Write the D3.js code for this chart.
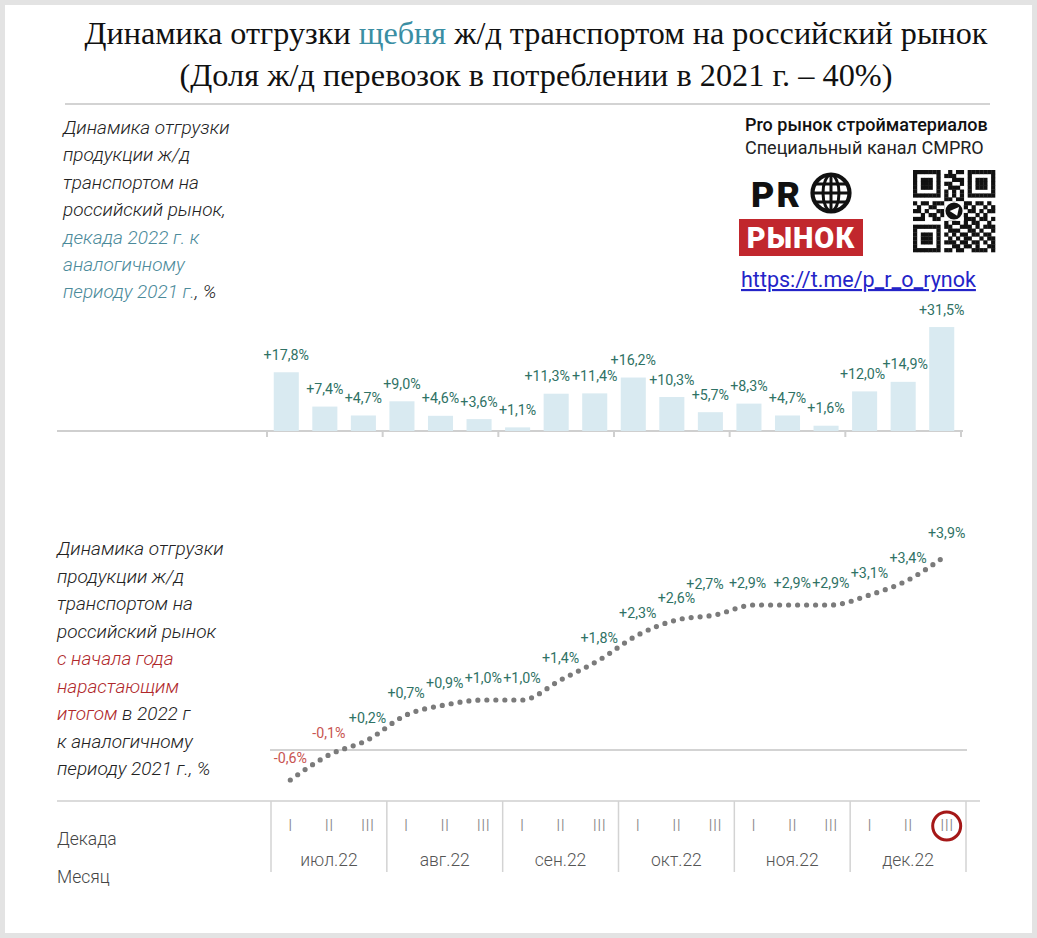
<!DOCTYPE html>
<html><head><meta charset="utf-8">
<script src="https://cdn.jsdelivr.net/npm/d3@7"></script>
<style>body{margin:0;background:#fff} svg{display:block}</style>
</head><body><script>
// ---- data ----
const months = ["июл.22","авг.22","сен.22","окт.22","ноя.22","дек.22"];
const decades = ["I","II","III"];
const barValues = [17.8, 7.4, 4.7, 9.0, 4.6, 3.6, 1.1, 11.3, 11.4, 16.2, 10.3, 5.7, 8.3, 4.7, 1.6, 12.0, 14.9, 31.5];
const cumValues = [-0.6, -0.1, 0.2, 0.7, 0.9, 1.0, 1.0, 1.4, 1.8, 2.3, 2.6, 2.7, 2.9, 2.9, 2.9, 3.1, 3.4, 3.9];
const categories = months.flatMap(m => decades.map(d => m + " " + d));
const qrRows = [
"111111100101101111111",
"100000101110001000001",
"101110100011101011101",
"101110101100101011101",
"101110100111001011101",
"100000101010101000001",
"111111101010101111111",
"000000001101100000000",
"101101111010011011010",
"010011001101110100101",
"110100110011001101011",
"001011011101110010100",
"111001100110011101101",
"000000001011010110010",
"111111101100111010111",
"100000100111001101001",
"101110101010110110110",
"101110100101011001011",
"101110101110110110101",
"100000100011011010011",
"111111101101100111101"];

const W = 1037, H = 938;
const GREEN = "#2f7265", RED = "#c85450", TEAL = "#4b8a9a", DARKRED = "#b0282b";
const fmt = v => (v > 0 ? "+" : "") + v.toFixed(1).replace(".", ",") + "%";

const svg = d3.select("body").append("svg").attr("width", W).attr("height", H)
  .style("font-family", "Roboto, 'Noto Sans', sans-serif");

svg.append("rect").attr("x", 0).attr("y", 0).attr("width", W).attr("height", H)
  .attr("fill", "#fff").attr("stroke", "#e3e3e3").attr("stroke-width", 10);

// ---- title ----
const t1 = svg.append("text").attr("x", 536).attr("y", 44).attr("text-anchor", "middle")
  .attr("font-family", "'Liberation Serif', 'Times New Roman', serif").attr("font-size", 32)
  .attr("fill", "#111").attr("textLength", 903).attr("lengthAdjust", "spacingAndGlyphs");
t1.append("tspan").text("Динамика отгрузки ");
t1.append("tspan").attr("fill", "#3a8ea3").text("щебня");
t1.append("tspan").text(" ж/д транспортом на российский рынок");
svg.append("text").attr("x", 536).attr("y", 86).attr("text-anchor", "middle")
  .attr("font-family", "'Liberation Serif', 'Times New Roman', serif").attr("font-size", 32)
  .attr("fill", "#111").attr("textLength", 713).attr("lengthAdjust", "spacingAndGlyphs")
  .text("(Доля ж/д перевозок в потреблении в 2021 г. – 40%)");
svg.append("line").attr("x1", 65).attr("x2", 990).attr("y1", 104).attr("y2", 104)
  .attr("stroke", "#c4c4c4").attr("stroke-width", 1.5);

// ---- left text blocks ----
function block(x, y0, step, lines) {
  lines.forEach((parts, i) => {
    const t = svg.append("text").attr("x", x).attr("y", y0 + i * step)
      .attr("font-size", 19).attr("font-style", "italic").attr("font-weight", 300).attr("fill", "#222");
    parts.forEach(p => t.append("tspan").attr("fill", p[1] || "#222").text(p[0]));
  });
}
block(63, 134, 27.4, [
  [["Динамика отгрузки"]],
  [["продукции ж/д"]],
  [["транспортом на"]],
  [["российский  рынок,"]],
  [["декада 2022 г. к", TEAL]],
  [["аналогичному", TEAL]],
  [["периоду 2021 г.", TEAL], [", %"]]
]);
block(57, 555, 27.5, [
  [["Динамика отгрузки"]],
  [["продукции ж/д"]],
  [["транспортом на"]],
  [["российский  рынок"]],
  [["с начала года", DARKRED]],
  [["нарастающим", DARKRED]],
  [["итогом", DARKRED], [" в 2022 г"]],
  [["к аналогичному"]],
  [["периоду 2021 г., %"]]
]);

// ---- logo block ----
svg.append("text").attr("x", 745).attr("y", 131).attr("font-size", 18).attr("font-weight", 500)
  .attr("fill", "#111").text("Pro рынок стройматериалов");
svg.append("text").attr("x", 745).attr("y", 154).attr("font-size", 18).attr("font-weight", 400)
  .attr("fill", "#222").text("Специальный канал CMPRO");
svg.append("text").attr("x", 751).attr("y", 206.5).attr("font-size", 35).attr("font-weight", 900)
  .attr("fill", "#111").attr("letter-spacing", 2).attr("textLength", 51).attr("lengthAdjust", "spacingAndGlyphs").text("PR");
const g = svg.append("g").attr("transform", "translate(831,193)");
g.append("circle").attr("r", 18.5).attr("fill", "none").attr("stroke", "#111").attr("stroke-width", 4.2);
g.append("ellipse").attr("rx", 8).attr("ry", 18).attr("fill", "none").attr("stroke", "#111").attr("stroke-width", 3);
g.append("line").attr("x1", 0).attr("x2", 0).attr("y1", -18).attr("y2", 18).attr("stroke", "#111").attr("stroke-width", 3);
[-9, 0, 9].forEach(yy => g.append("line").attr("x1", -Math.sqrt(324 - yy * yy)).attr("x2", Math.sqrt(324 - yy * yy))
  .attr("y1", yy).attr("y2", yy).attr("stroke", "#111").attr("stroke-width", 3));
svg.append("rect").attr("x", 739).attr("y", 219).attr("width", 124).attr("height", 37).attr("fill", "#c1272d");
svg.append("text").attr("x", 801).attr("y", 248).attr("text-anchor", "middle").attr("font-size", 29)
  .attr("font-weight", 900).attr("fill", "#fff").attr("letter-spacing", 1).text("РЫНОК");
// QR
const qs = 82 / 21;
const qg = svg.append("g").attr("transform", "translate(913,170)");
qrRows.forEach((row, r) => row.split("").forEach((c, k) => {
  if (c === "1") qg.append("rect").attr("x", k * qs).attr("y", r * qs).attr("width", qs + 0.3).attr("height", qs + 0.3).attr("fill", "#111");
}));
qg.append("rect").attr("x", 8 * qs).attr("y", 8 * qs).attr("width", 5 * qs).attr("height", 5 * qs).attr("fill", "#fff");
qg.append("circle").attr("cx", 10.5 * qs).attr("cy", 10.5 * qs).attr("r", 2.2 * qs).attr("fill", "#111");
qg.append("path").attr("d", `M${9.4 * qs},${10.5 * qs} L${11.8 * qs},${9.5 * qs} L${11.3 * qs},${11.7 * qs} Z`).attr("fill", "#fff");
// link
svg.append("text").attr("x", 741).attr("y", 287).attr("font-size", 21.5).attr("fill", "#2424c8")
  .attr("text-decoration", "underline").text("https://t.me/p_r_o_rynok");

// value label helper (narrowed Roboto like the reference)
function valueLabel(parent, cx, cy, txt, color) {
  const box = parent.append("rect").attr("fill", "#fff");
  const t = parent.append("text").attr("x", cx).attr("y", cy + 5.5).attr("text-anchor", "middle")
    .attr("font-size", 15.5).attr("fill", color).text(txt);
  const w = t.node().getComputedTextLength() * 0.92;
  t.attr("textLength", w).attr("lengthAdjust", "spacingAndGlyphs");
  box.attr("x", cx - w / 2 - 1).attr("y", cy - 8).attr("width", w + 2).attr("height", 16);
}

// ---- bar chart ----
const xb = d3.scaleBand().domain(categories).range([267, 961]).paddingInner(0.35).paddingOuter(0.175);
const yb = d3.scaleLinear().domain([0, 35]).range([431, 315.5]);
svg.append("line").attr("x1", 57).attr("x2", 963).attr("y1", yb(0)).attr("y2", yb(0))
  .attr("stroke", "#cfcfcf").attr("stroke-width", 2);
const monthEdge = d3.scaleLinear().domain([0, months.length]).range([267, 961]);
d3.range(months.length + 1).forEach(i => svg.append("line")
  .attr("x1", monthEdge(i)).attr("x2", monthEdge(i)).attr("y1", yb(0)).attr("y2", yb(0) + 6)
  .attr("stroke", "#cfcfcf").attr("stroke-width", 2));
svg.append("g").selectAll("rect").data(barValues).join("rect")
  .attr("x", (d, i) => xb(categories[i])).attr("width", xb.bandwidth())
  .attr("y", d => yb(d)).attr("height", d => yb(0) - yb(d)).attr("fill", "#d9eaf1");
const barNudge = {7: -9, 15: -2, 16: 2};
const bl = svg.append("g");
barValues.forEach((v, i) => {
  const cx = xb(categories[i]) + xb.bandwidth() / 2 + (barNudge[i] || 0);
  valueLabel(bl, cx, yb(v) - 18, fmt(v), GREEN);
});

// ---- line chart ----
const xa = d3.scaleBand().domain(categories).range([271, 966]);
const xl = i => xa(categories[i]) + xa.bandwidth() / 2;
const yl = d3.scaleLinear().domain([-1, 4]).range([800, 550]);
const lineNudge = {11: [-10, -9], 12: [-6, 0]};
const ll = svg.append("g");
cumValues.forEach((v, i) => {
  const n = lineNudge[i] || [0, 0];
  valueLabel(ll, xl(i) + n[0], yl(v) - 23 + n[1], fmt(v), v < 0 ? RED : GREEN);
});
svg.append("line").attr("x1", 270).attr("x2", 967).attr("y1", yl(0)).attr("y2", yl(0))
  .attr("stroke", "#d3d3d3").attr("stroke-width", 2);
svg.append("path").datum(cumValues)
  .attr("d", d3.line().x((d, i) => xl(i)).y(d => yl(d)).curve(d3.curveMonotoneX))
  .attr("fill", "none").attr("stroke", "#7b7b7b").attr("stroke-width", 5.2)
  .attr("stroke-linecap", "round").attr("stroke-dasharray", "0 9");

// ---- bottom axis ----
const xm = d3.scaleBand().domain(months).range([271, 966]);
svg.append("line").attr("x1", 57).attr("x2", 980).attr("y1", 801).attr("y2", 801)
  .attr("stroke", "#cfcfcf").attr("stroke-width", 1.5);
d3.range(months.length + 1).forEach(i => {
  const x = i < months.length ? xm(months[i]) : xm(months[months.length - 1]) + xm.bandwidth();
  svg.append("line").attr("x1", x).attr("x2", x).attr("y1", 801).attr("y2", 872)
    .attr("stroke", "#d3d3d3").attr("stroke-width", 1.5);
});
categories.forEach((c, i) => svg.append("text").attr("x", xa(c) + xa.bandwidth() / 2).attr("y", 831)
  .attr("text-anchor", "middle").attr("font-size", 17).attr("font-weight", 300).attr("fill", "#8a8a8a")
  .text(decades[i % 3]));
months.forEach(m => svg.append("text").attr("x", xm(m) + xm.bandwidth() / 2).attr("y", 866)
  .attr("text-anchor", "middle").attr("font-size", 17.5).attr("font-weight", 300).attr("fill", "#555").text(m));
svg.append("text").attr("x", 57).attr("y", 845).attr("font-size", 17.5).attr("font-weight", 300).attr("fill", "#444").text("Декада");
svg.append("text").attr("x", 57).attr("y", 883).attr("font-size", 17.5).attr("font-weight", 300).attr("fill", "#444").text("Месяц");
const last = categories[categories.length - 1];
svg.append("circle").attr("cx", xa(last) + xa.bandwidth() / 2).attr("cy", 826).attr("r", 14)
  .attr("fill", "none").attr("stroke", "#a51818").attr("stroke-width", 3);
</script></body></html>
